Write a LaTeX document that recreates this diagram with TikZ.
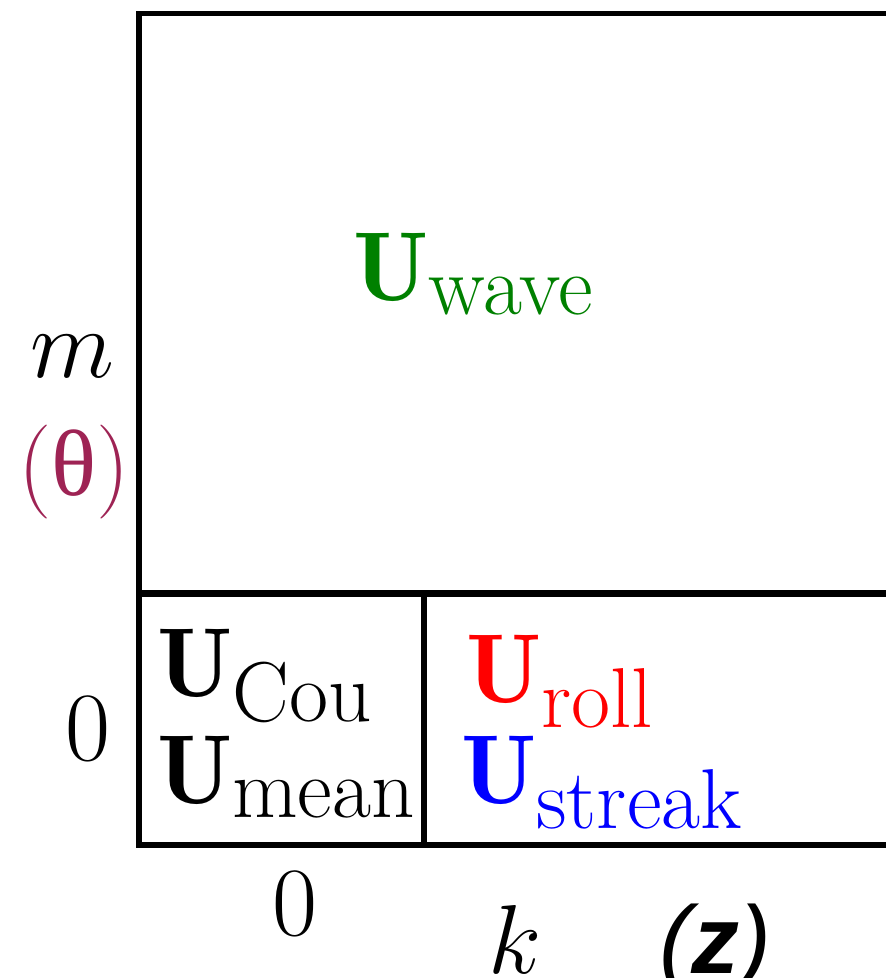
\RequirePackage{fix-cm}
\documentclass[tikz,border=0pt]{standalone}
\usepackage{fontspec}
\newfontfamily\libserif{Liberation Serif}
\newfontfamily\zfont{Liberation Sans}
\definecolor{wavegreen}{RGB}{0,128,0}
\definecolor{thetacol}{RGB}{158,35,84}
\newcommand{\subtxt}[1]{\mbox{\fontsize{85}{85}\selectfont #1}}
\begin{document}
\begin{tikzpicture}[x=1pt,y=-1pt,
  lbl/.style={inner sep=0pt,outer sep=0pt,anchor=base west,font=\fontsize{98}{100}\selectfont},
  frame/.style={line width=5.5pt,line cap=rect},
]
\useasboundingbox (0,0) rectangle (886,978);
% corners
\coordinate (tl) at (139,13.5);
\coordinate (tr) at (900,13.5);
\coordinate (bl) at (139,845);
\coordinate (br) at (900,845);
\coordinate (ml) at (142,593.5);
\coordinate (mr) at (900,593.5);
\coordinate (vt) at (424,593.5);
\coordinate (vb) at (424,845);
\draw[frame] (tr) -- (tl) -- (bl) -- (br);
\draw[line width=7pt] (ml) -- (mr);
\draw[line width=6pt] (vt) -- (vb);
% labels
\node[lbl,text=wavegreen] (wave) at (353,300) {$\mathbf{U}_{\subtxt{wave}}$};
\node[lbl] (cou) at (157,696) {$\mathbf{U}_{\subtxt{Cou}}$};
\node[lbl] (mean) at (157,803) {$\mathbf{U}_{\subtxt{mean}}$};
\node[lbl,text=red] (roll) at (466,702) {$\mathbf{U}_{\subtxt{roll}}$};
\node[lbl,text=blue] (streak) at (461,803) {$\mathbf{U}_{\subtxt{streak}}$};
% axes labels
\node[lbl,anchor=base] (m) at (72,377) {$m$};
\node[lbl,anchor=base,text=thetacol,font=\fontsize{94}{95}\selectfont] (theta) at (74,495) {({\libserif θ})};
\node[lbl,anchor=base] (zeroy) at (88,760) {0};
\node[lbl,anchor=base] (zerox) at (295,935) {0};
\node[lbl,anchor=base] (k) at (515,973) {$k$};
\node[lbl,anchor=base,font=\fontsize{96}{98}\zfont\itshape] (z) at (715,973) {({\bfseries z})};
\end{tikzpicture}
\end{document}
